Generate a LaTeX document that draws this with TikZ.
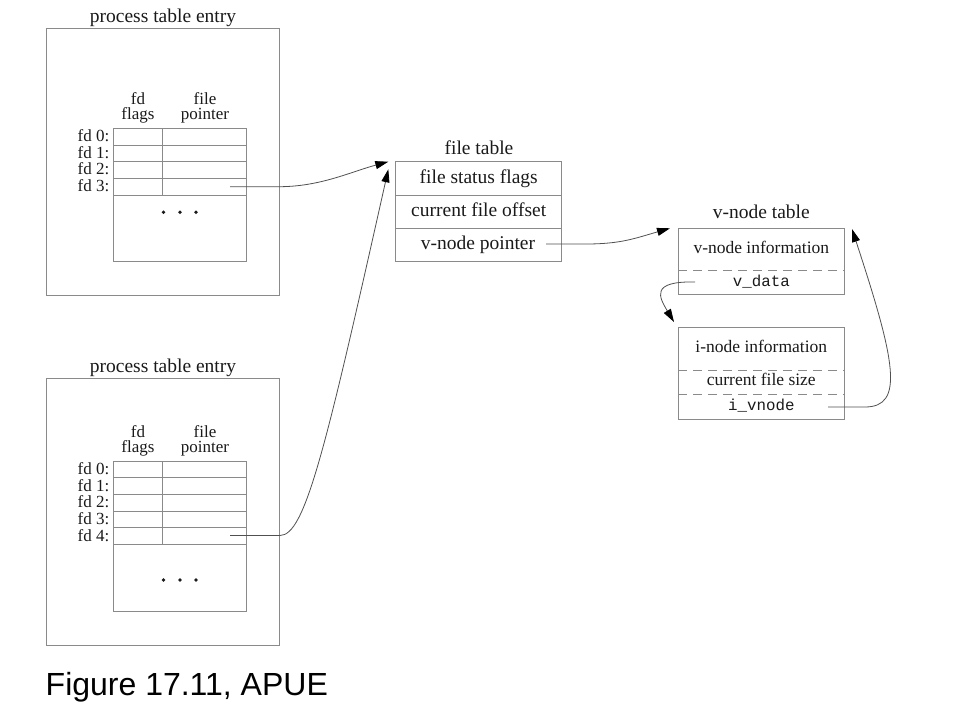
\documentclass[tikz,border=0pt]{standalone}
\usepackage{fontspec}
\setmainfont{Liberation Serif}
\setmonofont{Liberation Mono}
\newfontfamily\capfont{Liberation Sans}
\usetikzlibrary{arrows.meta,calc}
\definecolor{boxgray}{HTML}{8A8A8A}
\definecolor{linegray}{HTML}{505050}
\definecolor{txt}{HTML}{1A1A1A}
\begin{document}
\begin{tikzpicture}[x=1pt,y=-1pt,
 box/.style={draw=boxgray,line width=0.9pt,inner sep=0pt,outer sep=0pt},
 cell/.style={box,minimum height=16.67pt},
 dashsep/.style={draw=boxgray,line width=0.9pt,dash pattern=on 9pt off 6pt},
 ptr/.style={draw=linegray,line width=0.8pt,-{Triangle[length=13pt,width=8pt,color=black]}},
 lbl/.style={text=txt,inner sep=0pt,font=\fontsize{17}{17}\selectfont},
 hdr/.style={text=txt,inner sep=0pt,font=\fontsize{17}{17}\selectfont},
 ttl/.style={text=txt,inner sep=0pt,font=\fontsize{19.5}{20}\selectfont},
 ent/.style={text=txt,inner sep=0pt,font=\fontsize{19.5}{20}\selectfont},
 vent/.style={text=txt,inner sep=0pt,font=\fontsize{17.5}{18}\selectfont},
 mono/.style={text=txt,inner sep=0pt,font=\fontsize{15.8}{16}\selectfont\ttfamily},
 dot/.style={circle,fill=txt,inner sep=0pt,minimum size=3.8pt}
]
\useasboundingbox (0,0) rectangle (956,722);

% ---------- process table entry 1 ----------
\node[ttl,anchor=base] (t1) at (163,22.7) {process table entry};
\node[box,minimum width=232.3pt,minimum height=266.7pt] (P1) at (162.85,161.65) {};
\node[hdr,anchor=base] (A-fd) at (138,105) {fd};
\node[hdr,anchor=base] (A-flags) at (138,119.5) {flags};
\node[hdr,anchor=base] (A-file) at (205,105) {file};
\node[hdr,anchor=base] (A-ptr) at (205,119.5) {pointer};
\foreach \i in {0,...,3} {
  \node[cell,minimum width=49.4pt] (Af\i) at (138,{136.65+16.67*\i}) {};
  \node[cell,minimum width=83.3pt] (Ap\i) at (204.35,{136.65+16.67*\i}) {};
  \node[lbl,anchor=base east] (Al\i) at (109.5,{141.65+16.67*\i}) {fd \i:};
}
\node[box,minimum width=132.7pt,minimum height=66pt] (Arest) at (179.65,228) {};
\node[dot] (Ad1) at (163.5,212.3) {};
\node[dot] (Ad2) at (180,212.3) {};
\node[dot] (Ad3) at (196,212.3) {};

% ---------- process table entry 2 ----------
\node[ttl,anchor=base] (t2) at (163,372.7) {process table entry};
\node[box,minimum width=232.3pt,minimum height=267pt] (P2) at (162.85,511.5) {};
\node[hdr,anchor=base] (B-fd) at (138,437.7) {fd};
\node[hdr,anchor=base] (B-flags) at (138,452.2) {flags};
\node[hdr,anchor=base] (B-file) at (205,437.7) {file};
\node[hdr,anchor=base] (B-ptr) at (205,452.2) {pointer};
\foreach \i in {0,...,4} {
  \node[cell,minimum width=49.4pt] (Bf\i) at (138,{469.35+16.67*\i}) {};
  \node[cell,minimum width=83.3pt] (Bp\i) at (204.35,{469.35+16.67*\i}) {};
  \node[lbl,anchor=base east] (Bl\i) at (109.5,{474.35+16.67*\i}) {fd \i:};
}
\node[box,minimum width=132.7pt,minimum height=66.7pt] (Brest) at (179.65,577.7) {};
\node[dot] (Bd1) at (163.5,580) {};
\node[dot] (Bd2) at (180,580) {};
\node[dot] (Bd3) at (196,580) {};

% ---------- file table ----------
\node[ttl,anchor=base] (ftt) at (479,155) {file table};
\node[box,minimum width=166pt,minimum height=33.3pt] (F1) at (478.7,178.35) {};
\node[box,minimum width=166pt,minimum height=33.3pt] (F2) at (478.7,211.65) {};
\node[box,minimum width=166pt,minimum height=32.7pt] (F3) at (478.7,244.65) {};
\node[ent,anchor=base] (F1t) at (478.7,183.3) {file status flags};
\node[ent,anchor=base] (F2t) at (478.7,216.3) {current file offset};
\node[ent,anchor=base] (F3t) at (478,249.3) {v-node pointer};

% ---------- v-node table ----------
\node[ttl,anchor=base] (vtt) at (761.3,219) {v-node table};
\node[box,minimum width=166pt,minimum height=66pt] (V) at (761.3,261.3) {};
\draw[dashsep] (V.west |- 0,270) -- (V.east |- 0,270);
\node[vent,anchor=base] (Vt1) at (761.3,253.3) {v-node information};
\node[mono,anchor=base] (Vt2) at (761.3,286) {v\_data};

% ---------- i-node ----------
\node[box,minimum width=166pt,minimum height=91.6pt] (I) at (761.3,373.5) {};
\draw[dashsep] (I.west |- 0,370) -- (I.east |- 0,370);
\draw[dashsep] (I.west |- 0,394.3) -- (I.east |- 0,394.3);
\node[vent,anchor=base] (It1) at (761.3,352.7) {i-node information};
\node[vent,anchor=base] (It2) at (761.3,385.7) {current file size};
\node[mono,anchor=base] (It3) at (761.3,410.7) {i\_vnode};

% ---------- connectors ----------
\coordinate (a1s) at (230,186.7);
\coordinate (a1e) at (388.3,161.7);
\coordinate (a2s) at (230,535.5);
\coordinate (a2e) at (388.3,169.3);
\coordinate (a3s) at (546,244);
\coordinate (a3e) at (670,228.3);
\coordinate (a4s) at (695,282);
\coordinate (a4e) at (674,322);
\coordinate (a5s) at (828,407);
\coordinate (a5e) at (852,229);

\draw[ptr] (a1s) -- ++(49,0) .. controls +(41,0) and +(-38,10.3) .. (a1e);
\draw[ptr] (a2s) -- ++(50,0) .. controls +(25,0) and +(-63,281) .. (a2e);
\draw[ptr] (a3s) -- ++(40,0) .. controls +(35,0) and +(-35,10) .. (a3e);
\draw[ptr] (a4s) .. controls +(-45,-1) and +(-15,-25) .. (a4e);
\draw[ptr] (a5s) -- ++(37,0) .. controls +(40,0) and +(43,131) .. (a5e);

% ---------- caption ----------
\node[inner sep=0pt,anchor=base west,font=\capfont\fontsize{32}{33}\selectfont] (cap) at (45.5,695) {Figure 17.11, APUE};
\end{tikzpicture}
\end{document}
